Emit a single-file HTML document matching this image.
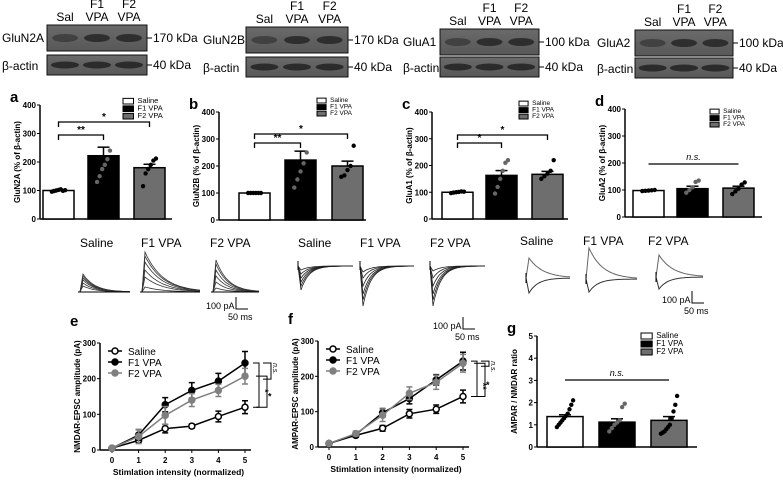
<!DOCTYPE html>
<html><head><meta charset="utf-8"><style>
body{margin:0;background:#fff;}
svg{display:block;font-family:"Liberation Sans",Arial,sans-serif;}
</style></head><body>
<svg id="fig" width="783" height="480" viewBox="0 0 783 480">
<defs>
<linearGradient id="blot" x1="0" x2="0" y1="0" y2="1"><stop offset="0" stop-color="#6a6a6a"/><stop offset="1" stop-color="#585858"/></linearGradient>
</defs>
<g id="blots"></g>
<g id="bars"></g>
<g id="traces"></g>
<g id="lines"></g>
</svg>
<script>
const groups = ["Saline","F1 VPA","F2 VPA"];
const fills = ["#ffffff","#000000","#6e6e6e"];
const barA = [100,222,180], errA = [3,30,12];
const barB = [100,222,200], errB = [2,33,18];
const barC = [100,163,167], errC = [2,18,11];
const barD = [98,105,107], errD = [2,9,7];
const barG = [1.37,1.12,1.2], errG = [0.08,0.15,0.17];
const ptsA = [[96,98,100,102,104,99,101],[130,150,175,190,210,240],[115,160,175,190,205,212]];
const ptsB = [[100,100,100,100,100,100],[120,150,180,210,250],[160,165,185,200,275]];
const ptsC = [[97,99,100,101,103,102],[95,120,150,180,210,220],[150,160,170,180,220]];
const ptsD = [[96,97,98,99,100],[90,100,110,130,135],[85,95,105,120,128]];
const ptsG = [[0.9,1.0,1.1,1.2,1.3,1.4,1.5,1.7,1.9,2.1],[0.7,0.85,1.0,1.1,1.2,1.8,1.95],[0.6,0.65,0.7,0.8,0.9,1.0,1.3,1.6,1.9,2.3]];
const xCats = [0,1,2,3,4,5];
const nmdaSal = [5,27,60,67,94,120], nmdaSalE = [3,5,12,6,15,18];
const nmdaF1 = [5,42,127,167,193,244], nmdaF1E = [3,15,20,22,22,32];
const nmdaF2 = [5,38,97,140,167,207], nmdaF2E = [3,20,25,18,17,22];
const ampaSal = [10,33,53,94,107,143], ampaSalE = [3,5,8,12,12,18];
const ampaF1 = [10,35,97,137,190,243], ampaF1E = [3,7,12,15,15,25];
const ampaF2 = [10,38,90,152,183,237], ampaF2E = [3,7,18,18,20,25];

const NS="http://www.w3.org/2000/svg";
function mk(parent,tag,attrs,text){const e=document.createElementNS(NS,tag);for(const k in attrs)e.setAttribute(k,attrs[k]);if(text!==undefined)e.textContent=text;parent.appendChild(e);return e;}

// ---------- blots ----------
const bl=document.getElementById('blots');
const blotDefs=[{name:"GluN2A",lx:2,x:47,w:100,y1:25,y2:55,t:"gluN2A",kd:"170 kDa"},{name:"GluN2B",lx:203,x:246,w:102,y1:27,y2:57,t:"gluN2B",kd:"170 kDa"},{name:"GluA1",lx:403,x:440,w:99,y1:29,y2:57,t:"gluA1",kd:"100 kDa"},{name:"GluA2",lx:597,x:635,w:98,y1:30,y2:58,t:"gluA2",kd:"100 kDa"}];
blotDefs.forEach((b,i)=>{
  const g=mk(bl,'g',{});
  
  
  const h1=26;
  mk(g,'rect',{x:b.x,y:b.y1,width:b.w,height:h1,fill:"url(#blot)",stroke:"#111","stroke-width":1});
  mk(g,'rect',{x:b.x,y:b.y2,width:b.w,height:20,fill:"url(#blot)",stroke:"#111","stroke-width":1});
  for(let k=0;k<3;k++){const cx=b.x+b.w*(0.18+0.32*k);
    mk(g,'ellipse',{cx:cx,cy:b.y1+h1/2,rx:13,ry:4,fill:k==0?"#3a3a3a":"#222",opacity:0.8});
    mk(g,'ellipse',{cx:cx,cy:b.y2+10,rx:14,ry:3.5,fill:"#222",opacity:0.85});}
  const top=b.y1-4;
  mk(g,'text',{x:b.x+b.w*0.18,y:top,"font-size":12,"text-anchor":"middle"},"Sal");
  mk(g,'text',{x:b.x+b.w*0.5,y:top-13,"font-size":12,"text-anchor":"middle"},"F1");
  mk(g,'text',{x:b.x+b.w*0.5,y:top,"font-size":12,"text-anchor":"middle"},"VPA");
  mk(g,'text',{x:b.x+b.w*0.82,y:top-13,"font-size":12,"text-anchor":"middle"},"F2");
  mk(g,'text',{x:b.x+b.w*0.82,y:top,"font-size":12,"text-anchor":"middle"},"VPA");
  mk(g,'text',{x:b.lx,y:b.y1+h1/2+4,"font-size":12},b.name);
  mk(g,'text',{x:b.lx,y:b.y2+15,"font-size":12},"β-actin");
  mk(g,'line',{x1:b.x+b.w,x2:b.x+b.w+5,y1:b.y1+h1/2,y2:b.y1+h1/2,stroke:"#000"});
  mk(g,'text',{x:b.x+b.w+6,y:b.y1+h1/2+4,"font-size":12},b.kd);
  mk(g,'line',{x1:b.x+b.w,x2:b.x+b.w+5,y1:b.y2+10,y2:b.y2+10,stroke:"#000"});
  mk(g,'text',{x:b.x+b.w+6,y:b.y2+14,"font-size":12},"40 kDa");
});

// ---------- bar charts ----------
const bg=document.getElementById('bars');
function barChart(o){
  const g=mk(bg,'g',{});
  
  
  const ys=v=>o.y0-(v/o.max)*(o.y0-o.yTop);
  mk(g,'text',{x:o.ax-30,y:o.yTop-3,"font-size":15,"font-weight":"bold"},o.id);
  mk(g,'line',{x1:o.ax,x2:o.ax,y1:o.yTop,y2:o.y0,stroke:"#000","stroke-width":1.5});
  mk(g,'line',{x1:o.ax,x2:o.xEnd,y1:o.y0,y2:o.y0,stroke:"#000","stroke-width":1.5});
  o.ticks.forEach(t=>{const y=ys(t);mk(g,'line',{x1:o.ax-3,x2:o.ax,y1:y,y2:y,stroke:"#000"});
    mk(g,'text',{x:o.ax-4,y:y+3,"font-size":8,"font-weight":"bold","text-anchor":"end"},String(t));});
  const yl=mk(g,'text',{x:0,y:0,"font-size":8,"font-weight":"bold","text-anchor":"middle",transform:`translate(${o.ax-20},${(o.y0+o.yTop)/2}) rotate(-90)`},o.ylab);
  
  
  o.vals.forEach((v,i)=>{
    const x=o.bx[i],w=o.bw,y=ys(v);
    const r=mk(g,'rect',{x:x,y:y,width:w,height:o.y0-y,fill:fills[i],stroke:"#000","stroke-width":1.5});
    
    
    const ye=ys(v+o.err[i]);
    mk(g,'line',{x1:x+w/2,x2:x+w/2,y1:y,y2:ye,stroke:"#000","stroke-width":1.5});
    mk(g,'line',{x1:x+w/2-6,x2:x+w/2+6,y1:ye,y2:ye,stroke:"#000","stroke-width":1.5});
    o.pts[i].forEach((p,j)=>{const n=o.pts[i].length;
      mk(g,'circle',{cx:x+w/2+(j-(n-1)/2)*(w*0.5/n),cy:ys(p),r:2.2,fill:i==1?"#666":"#000"});});
  });
  groups.forEach((gname,i)=>{const ly=o.legY+i*o.legS;
    const e=mk(g,'g',{});
    
    
    mk(e,'rect',{x:o.legX,y:ly-o.legS*0.75,width:o.legS*1.4,height:o.legS*0.75,fill:fills[i],stroke:"#000"});
    mk(e,'text',{x:o.legX+o.legS*1.4+4,y:ly-1,"font-size":o.legS},gname);});
  (o.sig||[]).forEach(s=>{
    const x1=o.bx[s[0]]+o.bw/2,x2=o.bx[s[1]]+o.bw/2,y=s[2];
    mk(g,'path',{d:`M${x1},${y+5}V${y}H${x2}V${y+5}`,fill:"none",stroke:"#000","stroke-width":1.3});
    mk(g,'text',{x:(x1+x2)/2,y:y-2,"font-size":10,"font-weight":"bold","text-anchor":"middle"},s[3]);});
  if(o.ns){const x1=o.bx[0]+o.bw/2,x2=o.bx[2]+o.bw/2;
    mk(g,'line',{x1:x1,x2:x2,y1:o.ns,y2:o.ns,stroke:"#000","stroke-width":1.3});
    mk(g,'text',{x:(x1+x2)/2,y:o.ns-4,"font-size":9,"font-style":"italic","text-anchor":"middle"},"n.s.");}
}
barChart({id:"a",ax:40,xEnd:172,y0:219,yTop:105,max:400,ticks:[0,100,200,300,400],ylab:"GluN2A (%  of β-actin)",vals:barA,err:errA,pts:ptsA,bx:[43,88,134],bw:31,legX:123,legY:104,legS:7.5,sig:[[0,1,135,"**"],[0,2,122,"*"]]});
barChart({id:"b",ax:219,xEnd:366,y0:220,yTop:112,max:400,ticks:[0,100,200,300,400],ylab:"GluN2B (% of β-actin)",vals:barB,err:errB,pts:ptsB,bx:[239,285,332],bw:31,legX:317,legY:103,legS:6.5,sig:[[0,1,143,"**"],[0,2,134,"*"]]});
barChart({id:"c",ax:432,xEnd:568,y0:219,yTop:112,max:400,ticks:[0,100,200,300,400],ylab:"GluA1 (% of β-actin)",vals:barC,err:errC,pts:ptsC,bx:[442,486,532],bw:31,legX:519,legY:106,legS:6.5,sig:[[0,1,143,"*"],[0,2,135,"*"]]});
barChart({id:"d",ax:625,xEnd:762,y0:217,yTop:109,max:400,ticks:[0,100,200,300,400],ylab:"GluA2 (% of β-actin)",vals:barD,err:errD,pts:ptsD,bx:[633,677,723],bw:31,legX:710,legY:114,legS:6.5,ns:164});
barChart({id:"g",ax:537,xEnd:697,y0:447,yTop:336,max:5,ticks:[0,1,2,3,4,5],ylab:"AMPAR / NMDAR ratio",vals:barG,err:errG,pts:ptsG,bx:[547,599,651],bw:36,legX:641,legY:339,legS:8,ns:380});

// ---------- traces ----------
const tg=document.getElementById('traces');
function lbl(x,y,t){mk(tg,'text',{x:x,y:y,"font-size":12},t);}
lbl(80,247,"Saline");lbl(141,247,"F1 VPA");lbl(210,247,"F2 VPA");
lbl(298,247,"Saline");lbl(360,247,"F1 VPA");lbl(430,247,"F2 VPA");
lbl(520,245,"Saline");lbl(583,245,"F1 VPA");lbl(648,245,"F2 VPA");
function decay(x0,w,base,amp,tau,rise,col,sw){let d=`M${x0},${base}`;d+=` L${x0+rise},${base-amp}`;
  for(let i=1;i<=30;i++){const t=i/30*(w-rise);d+=` L${(x0+rise+t).toFixed(1)},${(base-amp*Math.exp(-t/tau)).toFixed(1)}`;}
  mk(tg,'path',{d:d,fill:"none",stroke:col,"stroke-width":sw||0.8});}
const nmdaAmps=[[6,9,12,14,16,18],[5,15,22,30,36,40],[4,10,16,22,28,32]];
[[80,50],[142,58],[213,46]].forEach((p,k)=>{nmdaAmps[k].forEach(a=>decay(p[0],p[1],292,a,k==1?18:12,3,"#333"));
  mk(tg,'line',{x1:p[0]-2,x2:p[0]+p[1],y1:292,y2:292,stroke:"#000","stroke-width":1});});
const ampaAmps=[[4,8,12,16,20,24],[6,12,20,28,34,40],[5,12,20,28,34,40]];
[[298,55],[360,54],[430,55]].forEach((p,k)=>{ampaAmps[k].forEach(a=>decay(p[0],p[1],266,-a,8,3,"#222"));
  mk(tg,'line',{x1:p[0],x2:p[0],y1:261,y2:270,stroke:"#000"});});
[[526,44,278,20,15],[586,51,279,31,13],[656,47,277,22,12]].forEach(p=>{
  decay(p[0],p[1],p[2],p[3],14,3,"#666",1);decay(p[0],p[1],p[2],-p[4],9,3,"#333",1);
  mk(tg,'line',{x1:p[0],x2:p[0],y1:p[2]-5,y2:p[2]+5,stroke:"#000"});});
function scale(x,y){mk(tg,'path',{d:`M${x+18},${y-12}V${y}H${x+30}`,fill:"none",stroke:"#000"});
  mk(tg,'text',{x:x-12,y:y,"font-size":9},"100 pA");mk(tg,'text',{x:x+10,y:y+11,"font-size":9},"50 ms");}
scale(218,309);scale(445,329);scale(674,303);

// ---------- line charts ----------
const lg=document.getElementById('lines');
function lineChart(o){
  const g=mk(lg,'g',{});
  
  
  const xs=v=>o.x0+(v/5)*(o.x5-o.x0), ys=v=>o.y0-(v/300)*(o.y0-o.yTop);
  mk(g,'text',{x:o.ax-30,y:o.yTop-17,"font-size":15,"font-weight":"bold"},o.id);
  mk(g,'line',{x1:o.ax,x2:o.ax,y1:o.yTop,y2:o.y0,stroke:"#000","stroke-width":1.5});
  mk(g,'line',{x1:o.ax,x2:o.x5+6,y1:o.y0,y2:o.y0,stroke:"#000","stroke-width":1.5});
  [0,100,200,300].forEach(t=>{const y=ys(t);mk(g,'line',{x1:o.ax-3,x2:o.ax,y1:y,y2:y,stroke:"#000"});
    mk(g,'text',{x:o.ax-4,y:y+3,"font-size":8,"font-weight":"bold","text-anchor":"end"},String(t));});
  xCats.forEach(c=>{const x=xs(c);mk(g,'line',{x1:x,x2:x,y1:o.y0,y2:o.y0+3,stroke:"#000"});
    mk(g,'text',{x:x,y:o.y0+13,"font-size":8,"font-weight":"bold","text-anchor":"middle"},String(c));});
  const xt=mk(g,'text',{x:(o.x0+o.x5)/2,y:o.y0+25,"font-size":8.5,"font-weight":"bold","text-anchor":"middle"},"Stimlation intensity (normalized)");
  
  
  mk(g,'text',{x:0,y:0,"font-size":8,"font-weight":"bold","text-anchor":"middle",transform:`translate(${o.ax-20},${(o.y0+o.yTop)/2}) rotate(-90)`},o.ylab);
  o.series.forEach((s,k)=>{
    const col=k==2?"#808080":"#000";
    const sg=mk(g,'g',{});
    
    
    mk(sg,'polyline',{points:xCats.map((c,i)=>xs(c)+","+ys(s[0][i])).join(" "),fill:"none",stroke:col,"stroke-width":1.5});
    xCats.forEach((c,i)=>{const x=xs(c),v=s[0][i],e=s[1][i];
      mk(sg,'path',{d:`M${x-3},${ys(v+e)}H${x+3}M${x},${ys(v+e)}V${ys(v-e)}M${x-3},${ys(v-e)}H${x+3}`,stroke:col,"stroke-width":1.5,fill:"none"});
      mk(sg,'circle',{cx:x,cy:ys(v),r:3,fill:k==0?"#fff":col,stroke:col,"stroke-width":1.5});});
    const ly=o.yTop+8+k*11;
    mk(sg,'line',{x1:o.ax+8,x2:o.ax+22,y1:ly,y2:ly,stroke:col,"stroke-width":1.5});
    mk(sg,'circle',{cx:o.ax+15,cy:ly,r:3,fill:k==0?"#fff":col,stroke:col,"stroke-width":1.5});
    mk(sg,'text',{x:o.ax+28,y:ly+4,"font-size":10},groups[k]);
  });
  const xr=o.x5+8;
  const ya=ys(o.series[1][0][5]),yb=ys(o.series[2][0][5]),yc=ys(o.series[0][0][5]);
  mk(g,'path',{d:`M${xr},${ya}H${xr+6}V${yc}H${xr}`,fill:"none",stroke:"#000"});
  mk(g,'path',{d:`M${xr+3},${yb}H${xr+14}V${yc}H${xr+3}`,fill:"none",stroke:"#000"});
  mk(g,'path',{d:`M${xr+10},${ya}H${xr+18}V${yb+3}H${xr+10}`,fill:"none",stroke:"#000"});
  mk(g,'text',{x:xr+7,y:(ya+yc)/2+6,"font-size":9,"font-weight":"bold","transform":`rotate(90 ${xr+9} ${(ya+yc)/2+6})`},o.s1);
  mk(g,'text',{x:xr+15,y:(yb+yc)/2+8,"font-size":9,"font-weight":"bold"},"*");
  mk(g,'text',{x:xr+20,y:ya,"font-size":7,"font-style":"italic",transform:`rotate(90 ${xr+20} ${ya})`},"n.s.");
}
lineChart({id:"e",ax:100,x0:112,x5:245,y0:450,yTop:343,ylab:"NMDAR-EPSC amplitude (pA)",series:[[nmdaSal,nmdaSalE],[nmdaF1,nmdaF1E],[nmdaF2,nmdaF2E]],s1:"*"});
lineChart({id:"f",ax:318,x0:329,x5:463,y0:447,yTop:341,ylab:"AMPAR-EPSC amplitude (pA)",series:[[ampaSal,ampaSalE],[ampaF1,ampaF1E],[ampaF2,ampaF2E]],s1:"**"});
</script>
</body></html>
